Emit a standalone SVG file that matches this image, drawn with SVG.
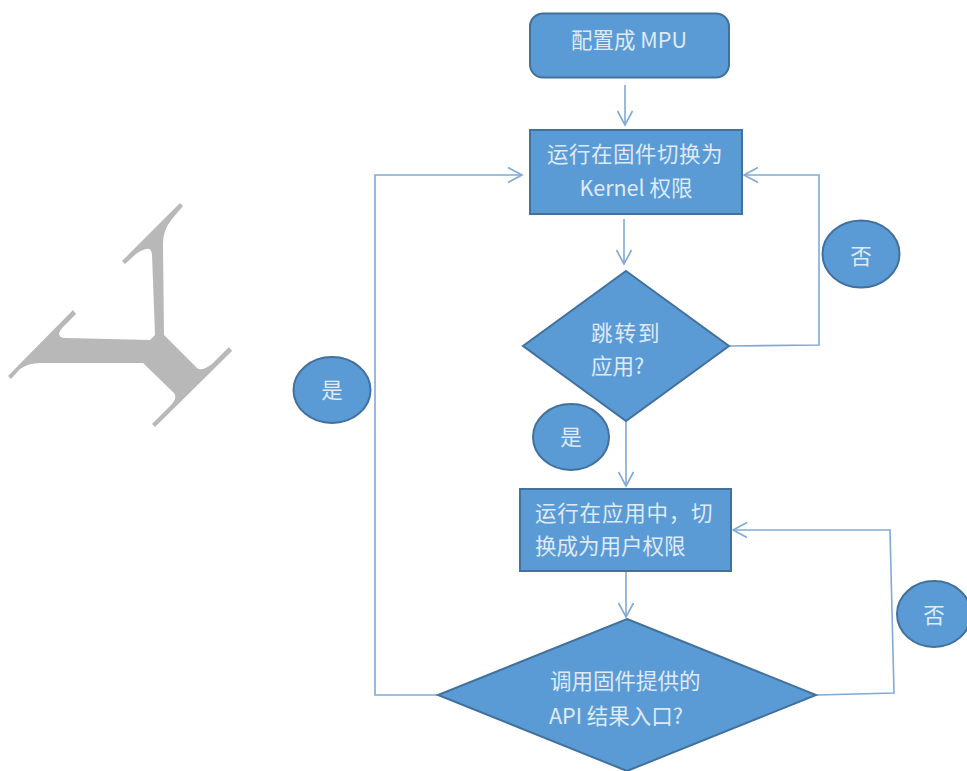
<svg xmlns="http://www.w3.org/2000/svg" width="967" height="771" viewBox="0 0 967 771">
<style>
.n{fill:#5b9bd5;stroke:#41719c;stroke-width:2}
.t{fill:#dfeaf6;font-family:"Noto Sans CJK SC","Liberation Sans",sans-serif;font-size:21.500px}
.m{text-anchor:middle}
.c{fill:none;stroke:#80a9d6;stroke-width:1.6}
</style>
<defs><marker id="a" markerUnits="userSpaceOnUse" markerWidth="18" markerHeight="30" refX="16" refY="15" orient="auto"><path d="M2 7.500L16 15L2 22.500" fill="none" stroke="#80a9d6" stroke-width="1.6"/></marker></defs>
<rect width="967" height="771" fill="#fff"/>
<path id="logo" fill="#b9b8b8" d="M180 203L183 206L172 219Q163 230 163 243L164 335L197 368Q201 372 212 364L229 347L232 351L155 427L152 424L170 406Q178 398 174 393L143 363L40 363Q28 363 20 369L11 379L8 376L73 310L76 314L63 327Q57 334 60 336Q61 338 66 338L150 340L155 335L152 254Q151 248 146 249Q141 250 136 254L125 264L122 261Z"/>
<g id="connectors">
<path class="c" d="M625 85V125" marker-end="url(#a)"/>
<path class="c" d="M624 219V264" marker-end="url(#a)"/>
<path class="c" d="M626 422V486" marker-end="url(#a)"/>
<path class="c" d="M626 572V617" marker-end="url(#a)"/>
<path class="c" d="M729 346L819 345V175H744" marker-end="url(#a)"/>
<path class="c" d="M817 695L894 693L890 530H733" marker-end="url(#a)"/>
<path class="c" d="M437 695H375V175H522" marker-end="url(#a)"/>
</g>
<g id="mpu"><rect class="n" x="530" y="13.500" width="199" height="64" rx="13"/><text class="t m" x="629" y="48">配置成 MPU</text></g>
<g id="kernel"><rect class="n" x="530" y="130" width="212" height="84"/><text class="t m" x="635" y="162" style="letter-spacing:.5px">运行在固件切换为</text><text class="t m" x="636" y="196">Kernel 权限</text></g>
<g id="jump"><path class="n" d="M626 271L729 346L626 421L523 346Z"/><text class="t" x="591" y="341" style="letter-spacing:2px">跳转到</text><text class="t" x="591" y="374">应用?</text></g>
<g id="no1"><ellipse class="n" cx="861" cy="254" rx="38.500" ry="33.500"/><text class="t m" x="861" y="264">否</text></g>
<g id="yes1"><ellipse class="n" cx="571" cy="437" rx="38" ry="33"/><text class="t m" x="571" y="445">是</text></g>
<g id="yes2"><ellipse class="n" cx="332" cy="390" rx="38.500" ry="33"/><text class="t m" x="332" y="398">是</text></g>
<g id="user"><rect class="n" x="520" y="489" width="211" height="82"/><text class="t" x="535" y="521" style="letter-spacing:.8px">运行在应用中，切</text><text class="t" x="535" y="554">换成为用户权限</text></g>
<g id="api"><path class="n" d="M627 619L816 695L627 771L438 695Z"/><text class="t" x="550" y="689">调用固件提供的</text><text class="t" x="549" y="724">API 结果入口?</text></g>
<g id="no2"><ellipse class="n" cx="934" cy="614" rx="37" ry="33"/><text class="t m" x="934" y="623">否</text></g>
</svg>
